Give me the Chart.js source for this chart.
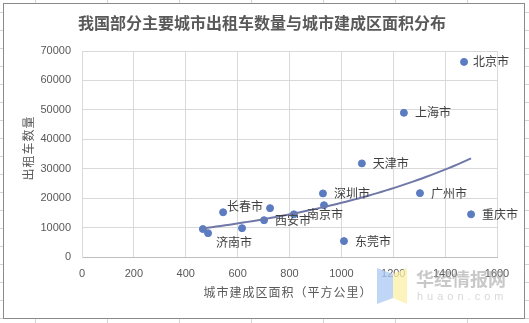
<!DOCTYPE html>
<html>
<head>
<meta charset="utf-8">
<script src="https://cdn.jsdelivr.net/npm/chart.js@4.4.0/dist/chart.umd.min.js"></script>
<style>
  html, body { margin: 0; padding: 0; background: #fff; overflow: hidden; }
  #wrap { width: 529px; height: 323px; position: relative; }
</style>
</head>
<body>
<div id="wrap"><canvas id="chart" width="529" height="323"></canvas></div>
<script>
// city, built-up area (km²), taxi count
const cities = ['北京市', '上海市', '天津市', '广州市', '重庆市', '深圳市', '南京市', '西安市', '长春市', '济南市', '东莞市', '', '', '', ''];
const area   = [1473, 1241, 1079, 1303, 1500, 929, 817, 702, 544, 486, 1010, 933, 725, 617, 466];
const taxis  = [66300, 49000, 31800, 21700, 14500, 21600, 14500, 12500, 15200, 8100, 5400, 17600, 16600, 9800, 9500];

const xTicks = [0, 200, 400, 600, 800, 1000, 1200, 1400, 1600];
const yTicks = [0, 10000, 20000, 30000, 40000, 50000, 60000, 70000];

const TEXT = '#595959';
const CJK = '"Noto Sans CJK SC", "Noto Sans", sans-serif';
const NUM = '"Liberation Sans", Arial, sans-serif';

// label placement tweaks, px from the marker
const labelNudge = { '北京市': [9, 0], '长春市': [4, -6], '济南市': [8, 9], '南京市': [13, 0] };

const points = area.map((x, i) => ({ x, y: taxis[i] }));

// exponential trendline y = a·e^(bx), least squares on ln(y)
const n = points.length;
const mx = area.reduce((s, v) => s + v, 0) / n;
const my = taxis.reduce((s, v) => s + Math.log(v), 0) / n;
let sxy = 0, sxx = 0;
points.forEach(p => { sxy += (p.x - mx) * (Math.log(p.y) - my); sxx += (p.x - mx) ** 2; });
const b = sxy / sxx;
const lnA = my - b * mx;
const x0 = Math.min(...area), x1 = Math.max(...area);
const trend = [];
for (let i = 0; i <= 60; i++) {
  const x = x0 + (x1 - x0) * i / 60;
  trend.push({ x, y: Math.exp(lnA + b * x) });
}

// sheet grid behind the chart box, plus the box itself
const sheetBg = {
  id: 'sheetBg',
  beforeDraw(chart) {
    const { ctx, width, height } = chart;
    ctx.save();
    ctx.fillStyle = '#fff';
    ctx.fillRect(0, 0, width, height);
    ctx.strokeStyle = '#d4d4d4';
    ctx.lineWidth = 1;
    for (let x = 35.5; x < width; x += 72) { ctx.beginPath(); ctx.moveTo(x, 0); ctx.lineTo(x, height); ctx.stroke(); }
    for (let y = 12.5; y < height; y += 18) { ctx.beginPath(); ctx.moveTo(0, y); ctx.lineTo(width, y); ctx.stroke(); }
    ctx.fillStyle = '#fff';
    ctx.fillRect(3, 3, 521, 315);
    ctx.strokeStyle = '#8a8a8a';
    ctx.strokeRect(3.5, 3.5, 521, 315);
    ctx.restore();
  }
};

// titles, city labels and the huaon mark
const annotations = {
  id: 'annotations',
  afterDatasetsDraw(chart) {
    const { ctx } = chart;
    const meta = chart.getDatasetMeta(1);
    ctx.save();
    ctx.font = '12px ' + CJK;
    ctx.fillStyle = '#404040';
    ctx.textBaseline = 'middle';
    ctx.textAlign = 'left';
    meta.data.forEach((el, i) => {
      const name = cities[i];
      if (!name) return;
      const [dx, dy] = labelNudge[name] || [11, 0];
      ctx.fillText(name, el.x + dx, el.y + dy);
    });
    ctx.restore();
  },
  afterDraw(chart) {
    const { ctx } = chart;
    ctx.save();
    ctx.fillStyle = TEXT;
    ctx.textAlign = 'center';
    ctx.textBaseline = 'middle';
    ctx.font = 'bold 16px ' + CJK;
    ctx.fillText('我国部分主要城市出租车数量与城市建成区面积分布', 262, 23);

    ctx.font = '12px ' + CJK;
    ctx.letterSpacing = '1px';
    ctx.fillText('城市建成区面积（平方公里）', 288, 292);
    ctx.translate(28, 148);
    ctx.rotate(-Math.PI / 2);
    ctx.fillText('出租车数量', 0, 0);
    ctx.restore();

    // watermark
    ctx.save();
    ctx.globalAlpha = 0.75;
    ctx.fillStyle = '#a9c8f3';
    ctx.beginPath();
    ctx.moveTo(377, 268); ctx.lineTo(393, 274); ctx.lineTo(393, 298); ctx.lineTo(377, 304); ctx.closePath();
    ctx.fill();
    ctx.fillStyle = '#fcefa6';
    ctx.beginPath();
    ctx.moveTo(393, 274); ctx.lineTo(407, 268); ctx.lineTo(407, 304); ctx.lineTo(393, 298); ctx.closePath();
    ctx.fill();
    ctx.globalAlpha = 0.55;
    ctx.fillStyle = '#9a9a9a';
    ctx.textBaseline = 'middle';
    ctx.textAlign = 'left';
    ctx.font = 'bold 18px ' + CJK;
    ctx.fillText('华经情报网', 416, 279);
    ctx.fillStyle = '#b8b8b8';
    ctx.font = '11px ' + NUM;
    ctx.letterSpacing = '4px';
    ctx.fillText('huaon.com', 417, 297);
    ctx.restore();
  }
};

new Chart(document.getElementById('chart'), {
  type: 'scatter',
  data: {
    datasets: [
      {
        type: 'line',
        data: trend,
        borderColor: '#6f78a8',
        borderWidth: 2,
        pointRadius: 0,
        tension: 0,
        fill: false,
        order: 0
      },
      {
        data: points,
        backgroundColor: '#5b7cc0',
        borderColor: '#5b7cc0',
        pointRadius: 3.5,
        order: 1
      }
    ]
  },
  options: {
    responsive: false,
    animation: false,
    layout: { padding: { top: 51, right: 32, left: 0, bottom: 0 } },
    plugins: { legend: { display: false }, title: { display: false }, tooltip: { enabled: false } },
    scales: {
      x: {
        type: 'linear',
        min: xTicks[0],
        max: xTicks[xTicks.length - 1],
        afterBuildTicks: s => { s.ticks = xTicks.map(v => ({ value: v })); },
        afterFit: s => { s.height = 66; },
        grid: { color: '#d9d9d9', drawTicks: false },
        border: { color: '#bfbfbf' },
        ticks: { color: TEXT, font: { family: NUM, size: 11 }, padding: 10, maxRotation: 0, callback: v => String(v) }
      },
      y: {
        type: 'linear',
        min: yTicks[0],
        max: yTicks[yTicks.length - 1],
        afterBuildTicks: s => { s.ticks = yTicks.map(v => ({ value: v })); },
        afterFit: s => { s.width = 82; },
        grid: { color: '#d9d9d9', drawTicks: false },
        border: { color: '#d9d9d9' },
        ticks: { color: TEXT, font: { family: NUM, size: 11 }, padding: 11, callback: v => String(v) }
      }
    }
  },
  plugins: [sheetBg, annotations]
});
</script>
</body>
</html>
